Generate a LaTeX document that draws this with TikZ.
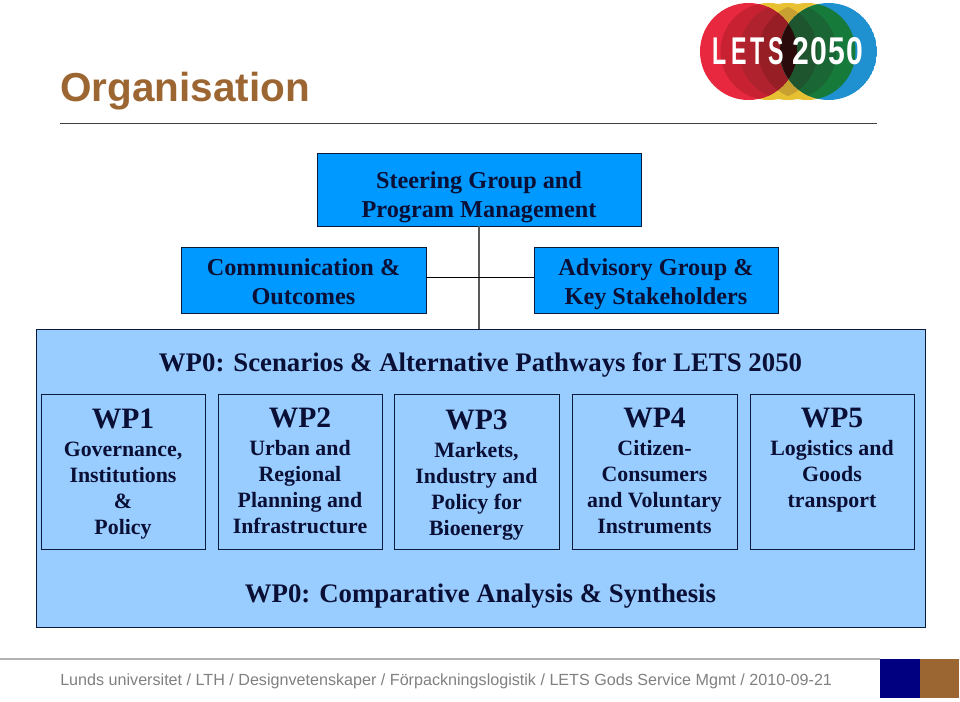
\documentclass[tikz,border=0pt]{standalone}
\usepackage{fontspec}
\setmainfont{Liberation Serif}
\setsansfont{Liberation Sans}
\usetikzlibrary{calc}
\definecolor{ink}{HTML}{0A0F35}
\definecolor{edge}{HTML}{0A1A3A}
\definecolor{bright}{HTML}{0099FF}
\definecolor{pale}{HTML}{99CCFF}
\definecolor{brownish}{HTML}{9C6633}
\definecolor{navyb}{HTML}{000080}
\tikzset{
  x=0.75pt,y=-0.75pt,
  blue box/.style={draw=edge,line width=0.65pt,fill=bright,inner sep=0pt,outer sep=0pt,anchor=north west},
  wp box/.style={draw=edge,line width=0.65pt,fill=pale,inner sep=0pt,outer sep=0pt,anchor=north west,minimum height=116.25pt},
  head/.style={font=\bfseries\fontsize{18.2}{22}\selectfont,text=ink},
  band/.style={font=\bfseries\fontsize{20.1}{24}\selectfont,text=ink,inner sep=0pt},
  wpt/.style={font=\bfseries\fontsize{16.4}{19.5}\selectfont,text=ink,align=center,inner sep=0pt,anchor=north},
  logo/.style={inner sep=0pt,text=white,font=\sffamily\bfseries\fontsize{29}{29}\selectfont},
}
\newcommand{\wpname}[1]{{\fontsize{22.2}{24}\selectfont #1}}
\newcommand{\inbox}[4]{\parbox[c][#2pt][t]{#1pt}{\centering\vspace*{#3pt}\strut #4}}
\newcommand{\ca}{(769,51.5) circle (48.5)}
\newcommand{\cb}{(788,51.5) circle (48.5)}
\newcommand{\cc}{(807,51.5) circle (48.5)}
\newcommand{\cR}{(748.5,51.5) circle (48.5)}
\newcommand{\cB}{(828.5,51.5) circle (48.5)}
\begin{document}
\begin{tikzpicture}
\useasboundingbox (0,0) rectangle (960,701);
% logo
\fill[color={rgb,255:red,232;green,193;blue,50}] \ca \cb \cc;
\begin{scope}\clip \ca; \fill[color={rgb,255:red,200;green,160;blue,50}] \cc; \end{scope}
\begin{scope}\clip \cR;
  \fill[color={rgb,255:red,232;green,40;blue,63}] \cR;
  \fill[color={rgb,255:red,200;green,34;blue,50}] \ca;
  \fill[color={rgb,255:red,176;green,34;blue,45}] \cb;
  \fill[color={rgb,255:red,152;green,30;blue,38}] \cc;
\end{scope}
\begin{scope}\clip \cB;
  \fill[color={rgb,255:red,31;green,144;blue,208}] \cB;
  \fill[color={rgb,255:red,22;green,122;blue,58}] \cc;
  \fill[color={rgb,255:red,26;green,102;blue,52}] \cb;
  \fill[color={rgb,255:red,30;green,84;blue,46}] \ca;
  \clip \cR;
  \fill[color={rgb,255:red,42;green,10;blue,10}] \cB;
\end{scope}
\node[logo] (lets) at (748.5,51.5) {\scalebox{.6}[1]{L\kern5pt E\kern5pt T\kern5pt S}};
\node[logo] (yr) at (828,51.5) {\scalebox{.78}[1]{2\kern1pt 0\kern1pt 5\kern1pt 0}};
% title
\node[anchor=base west,inner sep=0pt,text=brownish,font=\sffamily\bfseries\fontsize{30.35}{36}\selectfont] (title) at (60,101) {Organisation};
\draw[line width=0.9pt,draw=black!75] (60,123.5) coordinate (hl) -- (877,123.5) coordinate (hr);
% big panel
\node[draw=edge,line width=0.65pt,fill=pale,inner sep=0pt,outer sep=0pt,anchor=north west,minimum width=666.75pt,minimum height=223.5pt] (big) at (36,329) {};
% top boxes
\node[blue box,head] (steer) at (317,153) {\inbox{243}{54.75}{10.85}{Steering Group and\\\strut Program Management}};
\node[blue box,head] (comm) at (181,247) {\inbox{183.75}{49.5}{5.6}{Communication \&\\\strut Outcomes}};
\node[blue box,head] (adv) at (534,247) {\inbox{183}{49.5}{5.6}{Advisory Group \&\\\strut Key Stakeholders}};
\coordinate (jn) at (479,277);
\draw[line width=0.9pt,draw=black!65] (steer.south) -- (steer.south |- big.north);
\draw[line width=0.65pt,draw=black] (comm.east |- jn) -- (adv.west |- jn);
% bands
\node[band] (top) at (480.5,365) {WP0: Scenarios \& Alternative Pathways for LETS 2050};
\node[band] (bot) at (480.5,596) {WP0: Comparative Analysis \& Synthesis};
% work packages
\node[wp box,minimum width=123pt] (wp1) at (41,394) {};
\node[wp box,minimum width=123pt] (wp2) at (218,394) {};
\node[wp box,minimum width=123.75pt] (wp3) at (394,394) {};
\node[wp box,minimum width=123.75pt] (wp4) at (572,394) {};
\node[wp box,minimum width=123pt] (wp5) at (750,394) {};
\node[wpt] (t1) at ($(wp1.north)+(0,15)$) {\wpname{WP1}\\[1.5pt]Governance,\\Institutions\\\&\\Policy};
\node[wpt] (t2) at ($(wp2.north)+(0,14)$) {\wpname{WP2}\\[1.5pt]Urban and\\Regional\\Planning and\\Infrastructure};
\node[wpt] (t3) at ($(wp3.north)+(0,16)$) {\wpname{WP3}\\[1.5pt]Markets,\\Industry and\\Policy for\\Bioenergy};
\node[wpt] (t4) at ($(wp4.north)+(0,14)$) {\wpname{WP4}\\[1.5pt]Citizen-\\Consumers\\and Voluntary\\Instruments};
\node[wpt] (t5) at ($(wp5.north)+(0,14)$) {\wpname{WP5}\\[1.5pt]Logistics and\\Goods\\transport};
% footer
\draw[line width=0.9pt,draw=black!30] (0,659) coordinate (fl) -- (880,659) coordinate (fr);
\node[anchor=base west,inner sep=0pt,text=black!50,font=\sffamily\fontsize{12.1}{15}\selectfont] (foot) at (60,685) {Lunds universitet / LTH / Designvetenskaper / Förpackningslogistik / LETS Gods Service Mgmt / 2010-09-21};
\node[fill=navyb,inner sep=0pt,outer sep=0pt,anchor=north west,minimum width=29.7pt,minimum height=29.25pt] (sq1) at (880,659) {};
\node[fill=brownish,inner sep=0pt,outer sep=0pt,anchor=north west,minimum width=29.7pt,minimum height=29.25pt] (sq2) at (919.5,659) {};
\end{tikzpicture}
\end{document}
